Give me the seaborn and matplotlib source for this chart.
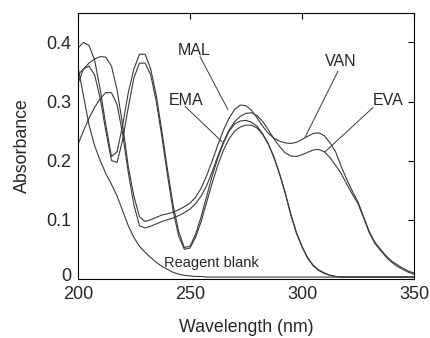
import numpy as np
import pandas as pd
import matplotlib
matplotlib.use("Agg")
import matplotlib.pyplot as plt
import matplotlib.transforms as mtransforms
import seaborn as sns

# wavelength grid (nm), 2.5 nm step
wavelength = np.arange(200, 350.1, 2.5)

# absorbance
mal = [0.390, 0.400, 0.395, 0.370, 0.320, 0.260, 0.207, 0.215, 0.260, 0.315,
       0.355, 0.380, 0.380, 0.355, 0.310, 0.250, 0.185, 0.125, 0.080, 0.053,
       0.055, 0.075, 0.105, 0.140, 0.175, 0.205, 0.230, 0.250, 0.262, 0.267,
       0.268, 0.265, 0.258, 0.245, 0.228, 0.205, 0.177, 0.145, 0.108, 0.077,
       0.054, 0.035, 0.022, 0.014, 0.009, 0.006, 0.004, 0.003, 0.003, 0.003,
       0.003, 0.003, 0.003, 0.003, 0.003, 0.003, 0.003, 0.003, 0.003, 0.003,
       0.003]
ema = [0.330, 0.355, 0.360, 0.345, 0.305, 0.250, 0.200, 0.197, 0.235, 0.290,
       0.340, 0.365, 0.365, 0.345, 0.300, 0.240, 0.175, 0.115, 0.072, 0.050,
       0.052, 0.070, 0.097, 0.130, 0.163, 0.193, 0.218, 0.237, 0.250, 0.257,
       0.260, 0.260, 0.255, 0.244, 0.228, 0.206, 0.178, 0.146, 0.110, 0.079,
       0.055, 0.036, 0.023, 0.015, 0.010, 0.006, 0.004, 0.003, 0.003, 0.003,
       0.003, 0.003, 0.003, 0.003, 0.003, 0.003, 0.003, 0.003, 0.003, 0.003,
       0.003]
van = [0.345, 0.355, 0.365, 0.372, 0.376, 0.375, 0.360, 0.320, 0.260, 0.190,
       0.140, 0.105, 0.097, 0.100, 0.104, 0.108, 0.110, 0.113, 0.117, 0.122,
       0.128, 0.138, 0.153, 0.175, 0.200, 0.227, 0.252, 0.272, 0.287, 0.294,
       0.293, 0.285, 0.272, 0.258, 0.246, 0.238, 0.233, 0.230, 0.229, 0.231,
       0.236, 0.241, 0.246, 0.247, 0.242, 0.230, 0.215, 0.190, 0.168, 0.148,
       0.130, 0.105, 0.080, 0.062, 0.050, 0.039, 0.030, 0.024, 0.018, 0.013,
       0.010]
eva = [0.227, 0.250, 0.272, 0.290, 0.305, 0.315, 0.315, 0.295, 0.245, 0.180,
       0.125, 0.090, 0.086, 0.089, 0.093, 0.097, 0.100, 0.103, 0.107, 0.112,
       0.118, 0.127, 0.140, 0.158, 0.182, 0.208, 0.232, 0.252, 0.266, 0.275,
       0.280, 0.281, 0.276, 0.266, 0.252, 0.237, 0.224, 0.213, 0.208, 0.207,
       0.210, 0.214, 0.218, 0.219, 0.215, 0.205, 0.192, 0.178, 0.160, 0.143,
       0.127, 0.103, 0.078, 0.060, 0.048, 0.037, 0.028, 0.021, 0.016, 0.011,
       0.008]
blank = [0.360, 0.310, 0.260, 0.225, 0.200, 0.178, 0.160, 0.140, 0.115, 0.090,
         0.070, 0.055, 0.045, 0.036, 0.028, 0.021, 0.016, 0.011, 0.008, 0.006,
         0.005, 0.004, 0.004, 0.003, 0.003, 0.003, 0.003, 0.003, 0.003, 0.003,
         0.003, 0.003, 0.003, 0.003, 0.003, 0.003, 0.003, 0.003, 0.003, 0.003,
         0.003, 0.003, 0.003, 0.003, 0.003, 0.003, 0.003, 0.003, 0.003, 0.003,
         0.003, 0.003, 0.003, 0.003, 0.003, 0.003, 0.003, 0.003, 0.003, 0.003,
         0.003]

series = {"MAL": mal, "EMA": ema, "VAN": van, "EVA": eva, "Reagent blank": blank}
df = pd.concat(
    [pd.DataFrame({"Wavelength": wavelength, "Absorbance": v, "Sample": k})
     for k, v in series.items()],
    ignore_index=True,
)

sns.set_style("white")
plt.rcParams["font.family"] = ["Liberation Sans", "DejaVu Sans"]

fig = plt.figure(figsize=(4.3, 3.38), dpi=100)
ax = fig.add_axes([0.181, 0.175, 0.782, 0.787])

sns.lineplot(data=df, x="Wavelength", y="Absorbance", hue="Sample",
             palette=["#3a3a3a"] * 5, linewidth=0.8, legend=False, ax=ax)

ax.set_xlim(200, 350)
ax.set_ylim(0, 0.45)
ax.set_xticks([200, 250, 300, 350])
ax.set_yticks([0, 0.1, 0.2, 0.3, 0.4])
ax.set_yticklabels(["0", "0.1", "0.2", "0.3", "0.4"])
ax.tick_params(direction="in", length=4, width=0.8, top=True, right=True,
               labelsize=13, color="black")
ax.tick_params(axis="x", pad=5)
ax.tick_params(axis="y", pad=5)
for s in ax.spines.values():
    s.set_color("black")
    s.set_linewidth(0.8)

# nudge the "0" label up a little so it clears the "200" below it
zero_lbl = ax.get_yticklabels()[0]
zero_lbl.set_transform(zero_lbl.get_transform() +
                       mtransforms.ScaledTranslation(0, 3 / 72, fig.dpi_scale_trans))

ax.set_xlabel("Wavelength (nm)", fontsize=12.8, labelpad=12)
ax.set_ylabel("Absorbance", fontsize=12.8, labelpad=11)

# label text position, leader start, leader end (data coordinates)
notes = [
    ("MAL", (251.8, 0.386), (254.5, 0.376), (267.0, 0.286)),
    ("EMA", (248.2, 0.302), (247.8, 0.292), (264.3, 0.232)),
    ("VAN", (317.4, 0.368), (316.0, 0.351), (301.3, 0.239)),
    ("EVA", (338.4, 0.302), (331.7, 0.290), (310.3, 0.215)),
]
for txt, pos, start, end in notes:
    ax.text(pos[0], pos[1], txt, fontsize=11.5, ha="center", va="center")
    ax.annotate("", xy=end, xytext=start,
                arrowprops=dict(arrowstyle="-", color="#3a3a3a", lw=0.7,
                                shrinkA=0, shrinkB=0))
ax.text(259.4, 0.027, "Reagent blank", fontsize=10.5, ha="center",
        va="center")

fig.savefig("out.png", dpi=100)
